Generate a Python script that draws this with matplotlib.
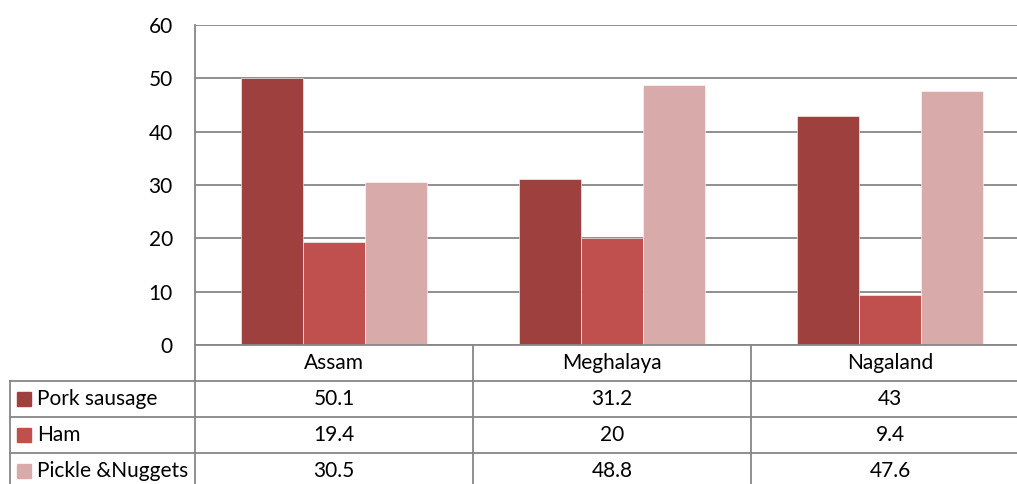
import numpy as np
import matplotlib.pyplot as plt
from matplotlib.patches import Rectangle

plt.rcParams['font.family'] = ['Lato', 'DejaVu Sans']

states = ['Assam', 'Meghalaya', 'Nagaland']
series = ['Pork sausage', 'Ham', 'Pickle &Nuggets']
pork = [50.1, 31.2, 43]
ham = [19.4, 20, 9.4]
pickle = [30.5, 48.8, 47.6]
value_labels = [['50.1', '31.2', '43'], ['19.4', '20', '9.4'], ['30.5', '48.8', '47.6']]
colors = ['#9E403E', '#C0504D', '#D9AAAA']
grid_col = '#878787'
fs = 15

W, H = 1017, 484
fig = plt.figure(figsize=(W / 100, H / 100), dpi=100)

# plot area in pixels: left edge 195, each category 278 px wide, zero at y=345, 60 at y=25
cat_w = 278
x0, y_top, y_zero = 195, 25, 345
ax = fig.add_axes([x0 / W, (H - y_zero) / H, 3 * cat_w / W, (y_zero - y_top) / H])

bw = 62 / cat_w
x = np.arange(len(states)) + 0.5
for k, vals in enumerate([pork, ham, pickle]):
    ax.bar(x + (k - 1) * bw, vals, width=bw, color=colors[k], edgecolor='white',
           linewidth=0.4, zorder=3)

ax.set_xlim(0, 3)
ax.set_ylim(0, 60)
ax.set_yticks(range(0, 61, 10))
ax.set_xticks([])
ax.yaxis.grid(True, color=grid_col, linewidth=1.3, zorder=0)
ax.tick_params(axis='y', length=0, pad=16, labelsize=fs)
for s in ['top', 'right', 'bottom']:
    ax.spines[s].set_visible(False)
ax.spines['left'].set_color(grid_col)
ax.spines['left'].set_linewidth(1.3)

# data table below the plot
row_h = 36
tab_left = 10
tax = fig.add_axes([tab_left / W, (H - y_zero - 4 * row_h) / H,
                    (x0 - tab_left + 3 * cat_w) / W, 4 * row_h / H])
lab_w = (x0 - tab_left) / cat_w
tax.set_xlim(-lab_w, 3)
tax.set_ylim(4, 0)
tax.axis('off')

lk = dict(color=grid_col, linewidth=1.3, clip_on=False)
tax.plot([0, 3], [0, 0], **lk)
for r in range(1, 4):
    tax.plot([-lab_w, 3], [r, r], **lk)
tax.plot([-lab_w, -lab_w], [1, 4], **lk)
for c in range(0, 3):
    tax.plot([c, c], [0, 4], **lk)

for i, st in enumerate(states):
    tax.text(i + 0.5, 0.5, st, ha='center', va='center', fontsize=fs)

sq = 14 / cat_w
for r, name in enumerate(series):
    y = r + 1.5
    tax.add_patch(Rectangle((-lab_w + 7 / cat_w, y - 0.2), sq, 0.4,
                            color=colors[r], clip_on=False))
    tax.text(-lab_w + 27 / cat_w, y, name, ha='left', va='center', fontsize=fs)
    for i in range(len(states)):
        tax.text(i + 0.5, y, value_labels[r][i], ha='center', va='center', fontsize=fs)

fig.savefig('out.png', dpi=100)
